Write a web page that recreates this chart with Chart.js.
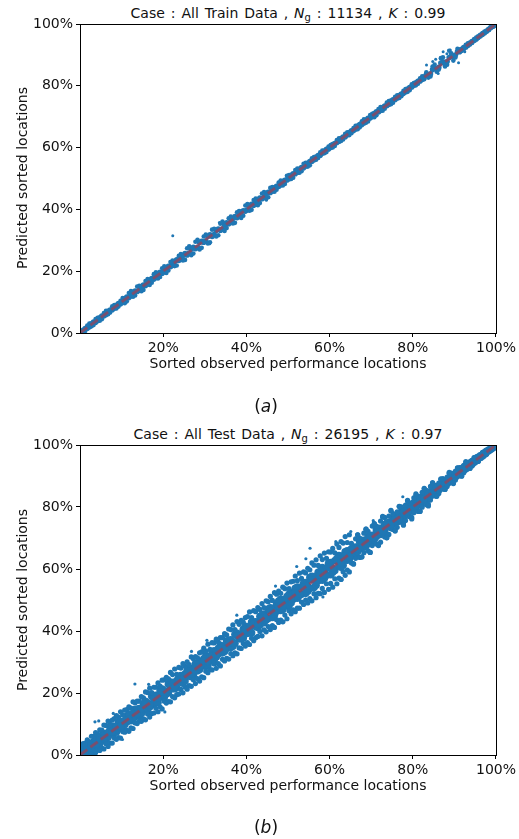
<!DOCTYPE html>
<html>
<head>
<meta charset="utf-8">
<script src="https://cdn.jsdelivr.net/npm/chart.js@4.4.1/dist/chart.umd.min.js"></script>
<style>
  body { margin: 0; background: #fff; font-family: "DejaVu Sans", sans-serif; color: #111; }
  #page { position: relative; width: 519px; height: 839px; overflow: hidden; }
  canvas { position: absolute; left: 0; }
  .txt { position: absolute; text-align: center; font-size: 14px; line-height: 16px; white-space: nowrap; }
  .wide { left: 60px; width: 456px; }
  .title { word-spacing: 1.5px; }
  .ylab { left: -133px; width: 310px; transform: rotate(-90deg); }
  .cap { left: 216px; width: 100px; font-size: 17px; line-height: 20px; }
  sub { font-size: 10px; vertical-align: -3px; line-height: 0; }
</style>
</head>
<body>
<div id="page">
  <div class="txt wide title" style="top:5px">Case : All Train Data , <i>N</i><sub>g</sub> : 11134 , <i>K</i> : 0.99</div>
  <canvas id="trainChart" width="519" height="420" style="top:0"></canvas>
  <div class="txt ylab" style="top:170px">Predicted sorted locations</div>
  <div class="txt wide" style="top:355px">Sorted observed performance locations</div>
  <div class="txt cap" style="top:396px">(<i>a</i>)</div>

  <div class="txt wide title" style="top:426px">Case : All Test Data , <i>N</i><sub>g</sub> : 26195 , <i>K</i> : 0.97</div>
  <canvas id="testChart" width="519" height="419" style="top:420px"></canvas>
  <div class="txt ylab" style="top:592px">Predicted sorted locations</div>
  <div class="txt wide" style="top:777px">Sorted observed performance locations</div>
  <div class="txt cap" style="top:817px">(<i>b</i>)</div>
</div>
<script>
// tick values (percent)
const xTicks = [20, 40, 60, 80, 100]
const yTicks = [0, 20, 40, 60, 80, 100]
const diagonal = [0, 100]

// observed locations (two interleaved sets)
const obsA = [
  0.25, 1.25, 2.25, 3.25, 4.25, 5.25, 6.25, 7.25, 8.25, 9.25,
  10.25, 11.25, 12.25, 13.25, 14.25, 15.25, 16.25, 17.25, 18.25, 19.25,
  20.25, 21.25, 22.25, 23.25, 24.25, 25.25, 26.25, 27.25, 28.25, 29.25,
  30.25, 31.25, 32.25, 33.25, 34.25, 35.25, 36.25, 37.25, 38.25, 39.25,
  40.25, 41.25, 42.25, 43.25, 44.25, 45.25, 46.25, 47.25, 48.25, 49.25,
  50.25, 51.25, 52.25, 53.25, 54.25, 55.25, 56.25, 57.25, 58.25, 59.25,
  60.25, 61.25, 62.25, 63.25, 64.25, 65.25, 66.25, 67.25, 68.25, 69.25,
  70.25, 71.25, 72.25, 73.25, 74.25, 75.25, 76.25, 77.25, 78.25, 79.25,
  80.25, 81.25, 82.25, 83.25, 84.25, 85.25, 86.25, 87.25, 88.25, 89.25,
  90.25, 91.25, 92.25, 93.25, 94.25, 95.25, 96.25, 97.25, 98.25, 99.25
]
const obsB = [
  0.75, 1.75, 2.75, 3.75, 4.75, 5.75, 6.75, 7.75, 8.75, 9.75,
  10.75, 11.75, 12.75, 13.75, 14.75, 15.75, 16.75, 17.75, 18.75, 19.75,
  20.75, 21.75, 22.75, 23.75, 24.75, 25.75, 26.75, 27.75, 28.75, 29.75,
  30.75, 31.75, 32.75, 33.75, 34.75, 35.75, 36.75, 37.75, 38.75, 39.75,
  40.75, 41.75, 42.75, 43.75, 44.75, 45.75, 46.75, 47.75, 48.75, 49.75,
  50.75, 51.75, 52.75, 53.75, 54.75, 55.75, 56.75, 57.75, 58.75, 59.75,
  60.75, 61.75, 62.75, 63.75, 64.75, 65.75, 66.75, 67.75, 68.75, 69.75,
  70.75, 71.75, 72.75, 73.75, 74.75, 75.75, 76.75, 77.75, 78.75, 79.75,
  80.75, 81.75, 82.75, 83.75, 84.75, 85.75, 86.75, 87.75, 88.75, 89.75,
  90.75, 91.75, 92.75, 93.75, 94.75, 95.75, 96.75, 97.75, 98.75, 99.5
]

// (a) train: predicted minus observed
const trainResA1 = [
  0.3, -0.6, 0.8, -0.7, 0.7, -0.8, 0.9, -0.6, 0.8, -0.7,
  1.1, -1.0, 1.3, -1.1, 1.0, -1.3, 1.2, -1.0, 1.4, -1.1, 1.3, -1.0, 1.2, -1.4, 1.3,
  -1.6, 1.8, -1.5, 1.9, -1.7, 1.6, -1.9, 1.5, -1.6, 1.8,
  -1.3, 1.4, -1.6, 1.2, -1.3, 1.5, -1.4, 1.3, -1.2, 1.4, -1.3,
  1.0, -0.9, 1.1, -1.0, 0.9, -1.0, 1.0, -0.9, 0.8, -1.0,
  0.7, -0.6, 0.8, -0.7, 0.6, -0.7, 0.8, -0.6, 0.7, -0.6,
  0.8, -0.7, 0.9, -0.8, 0.7, -0.8, 0.9, -0.7, 0.8, -0.7,
  0.7, -0.6, 0.7, -0.7, 0.6, -0.6, 0.8,
  1.1, -1.2, 1.6, -1.0, 2.0, -1.4, 1.3, -1.1,
  0.5, -0.4, 0.5, -0.4, 0.4, -0.3, 0.3, -0.2, 0.1
]
const trainResA2 = [
  -0.1, 0.2, -0.2, 0.3, -0.2, 0.2, -0.3, 0.2, -0.2, 0.3,
  -0.3, 0.4, -0.3, 0.3, -0.4, 0.3, -0.3, 0.4, -0.3, 0.4, -0.4, 0.3, -0.3, 0.4, -0.3,
  0.5, -0.4, 0.5, -0.5, 0.4, -0.5, 0.5, -0.4, 0.4, -0.5,
  0.4, -0.3, 0.4, -0.4, 0.3, -0.4, 0.4, -0.3, 0.4, -0.3, 0.3,
  -0.3, 0.2, -0.3, 0.2, -0.3, 0.3, -0.2, 0.3, -0.2, 0.2,
  -0.2, 0.2, -0.1, 0.2, -0.2, 0.1, -0.2, 0.2, -0.1, 0.2,
  -0.2, 0.2, -0.3, 0.2, -0.2, 0.3, -0.2, 0.2, -0.2, 0.2,
  -0.2, 0.1, -0.2, 0.2, -0.1, 0.2, -0.2,
  0.3, -0.4, 0.4, -0.3, 0.5, -0.4, 0.3, -0.3,
  -0.2, 0.1, -0.1, 0.1, -0.1, 0.1, -0.1, 0.0, 0.0
]
const trainResB1 = [
  -0.3, 0.7, -0.6, 0.8, -0.8, 0.7, -0.7, 0.9, -0.8, 0.7,
  -1.1, 1.2, -1.0, 1.3, -1.2, 1.1, -1.2, 1.3, -1.1, 1.2, -1.3, 1.2, -1.1, 1.2, -1.3,
  1.7, -1.6, 1.8, -1.7, 1.5, -1.8, 1.7, -1.5, 1.6, -1.7,
  1.4, -1.3, 1.3, -1.5, 1.5, -1.2, 1.3, -1.4, 1.4, -1.3, 1.2,
  -1.0, 0.9, -1.0, 1.1, -0.9, 1.0, -0.9, 1.0, -0.9, 0.8,
  -0.7, 0.7, -0.6, 0.6, -0.7, 0.7, -0.6, 0.7, -0.7, 0.6,
  -0.8, 0.8, -0.7, 0.8, -0.9, 0.7, -0.8, 0.8, -0.7, 0.7,
  -0.7, 0.6, -0.7, 0.7, -0.6, 0.7, -0.6,
  -1.1, 1.5, -1.2, 2.2, -1.5, 2.6, -1.6, 1.2,
  -0.5, 0.5, -0.4, 0.4, -0.3, 0.3, -0.2, 0.1, -0.1
]
const trainResB2 = [
  0.1, -0.2, 0.2, -0.3, 0.2, -0.2, 0.3, -0.2, 0.2, -0.3,
  0.3, -0.3, 0.4, -0.3, 0.3, -0.4, 0.3, -0.3, 0.4, -0.4, 0.3, -0.3, 0.4, -0.3, 0.3,
  -0.5, 0.4, -0.5, 0.5, -0.4, 0.5, -0.5, 0.4, -0.5, 0.4,
  -0.4, 0.3, -0.4, 0.4, -0.3, 0.4, -0.4, 0.3, -0.3, 0.4, -0.3,
  0.2, -0.3, 0.3, -0.2, 0.3, -0.2, 0.2, -0.3, 0.2, -0.2,
  0.2, -0.2, 0.1, -0.2, 0.2, -0.1, 0.2, -0.2, 0.1, -0.2,
  0.2, -0.3, 0.2, -0.2, 0.3, -0.2, 0.2, -0.2, 0.3, -0.2,
  0.1, -0.2, 0.2, -0.1, 0.2, -0.2, 0.1,
  -0.4, 0.5, -0.3, 0.6, -0.5, 0.4, -0.4, 0.3,
  0.1, -0.2, 0.1, -0.1, 0.1, -0.1, 0.0, 0.1, 0.0
]
const trainOutX = [22.3, 83.3, 87.3, 86.1, 91.0, 85.5, 88.2, 84.8, 89.0, 92.5, 33.5, 31.2, 44.8]
const trainOutY = [31.5, 86.7, 91.0, 84.0, 87.5, 88.6, 90.4, 87.9, 91.6, 91.0, 35.8, 28.9, 43.0]

// (b) test: predicted minus observed, outer part of the band
const testResA1 = [
  2.2, 2.6, 2.0, 2.8, 2.4,
  2.8, 3.3, 2.6, 3.5, 3.0, 2.7, 3.4, 2.9, 3.6, 3.1,
  3.2, 3.9, 2.9, 3.6, 3.0, 4.0, 3.3, 3.7, 2.8, 3.8,
  3.4, 2.9, 3.8, 3.1, 4.0, 3.3, 2.8, 3.9, 3.2, 3.6,
  3.5, 4.2, 3.2, 3.9, 3.6, 4.4, 3.1, 4.0, 3.7, 3.3,
  4.2, 3.6, 4.6, 3.9, 4.4, 3.4, 4.8, 4.0, 3.7, 4.5,
  4.5, 5.0, 3.9, 4.8, 4.2, 5.2, 4.0, 4.7, 5.1, 4.3,
  3.0, 3.5, 2.7, 3.3, 2.9, 3.6, 2.6, 3.2, 3.4, 2.8,
  2.6, 2.2, 2.8, 2.4, 2.0, 2.7, 2.3, 2.5, 2.1, 2.4,
  1.8, 1.5, 1.9, 1.4, 1.7, 1.3, 1.5, 1.2,
  1.0, 0.8, 0.9, 0.6, 0.5,
  0.3, 0.2
]
const testResA2 = [
  -0.2, -1.1, -1.9, -2.6, -2.5,
  -3.0, -2.6, -3.4, -2.8, -3.6, -2.7, -3.2, -3.5, -2.9, -3.3,
  -3.6, -3.0, -3.9, -3.2, -3.7, -2.9, -4.0, -3.4, -3.8, -3.1,
  -3.3, -3.9, -3.0, -3.6, -4.0, -3.2, -3.7, -2.9, -3.8, -3.4,
  -4.1, -3.5, -4.3, -3.7, -3.3, -4.0, -3.6, -4.4, -3.4, -3.9,
  -3.8, -4.5, -3.6, -4.7, -4.1, -3.7, -4.4, -4.9, -3.9, -4.3,
  -4.8, -4.2, -5.1, -4.5, -4.0, -4.9, -4.4, -5.2, -4.1, -4.6,
  -3.3, -2.8, -3.5, -3.0, -3.4, -2.7, -3.2, -3.6, -2.9, -3.1,
  -2.5, -2.8, -2.2, -2.6, -2.4, -2.1, -2.7, -2.3, -2.5, -2.0,
  -1.7, -1.9, -1.4, -1.6, -1.3, -1.5, -1.1, -1.2,
  -0.9, -1.0, -0.7, -0.6, -0.4,
  -0.3, -0.2
]
const testResB1 = [
  2.9, -1.6, 3.3, -3.0, 3.4,
  -3.8, 4.2, -3.9, 4.0, -4.3, 3.7, -4.1, 4.4, -3.6, 4.1,
  -4.4, 4.8, -4.2, 4.5, -4.9, 4.3, -4.6, 5.0, -4.1, 4.7,
  -4.5, 4.9, -4.7, 4.2, -4.8, 5.0, -4.3, 4.6, -5.0, 4.4,
  -4.8, 5.2, -5.1, 4.7, -4.6, 5.4, -4.9, 4.8, -5.3, 5.0,
  -5.3, 5.6, -5.0, 5.4, -5.8, 5.1, -5.5, 5.9, -5.2, 5.5,
  -6.0, 6.2, -5.7, 6.4, -6.3, 5.9, -6.5, 6.1, -5.8, 6.3,
  -4.0, 4.3, -3.8, 4.1, -4.4, 3.9, -4.2, 4.0, -3.7, 4.2,
  -3.3, 3.5, -3.1, 3.4, -3.6, 3.0, -3.2, 3.3, -2.9, 3.1,
  -2.2, 2.3, -2.0, 2.1, -2.2, 1.8, -1.7, 1.9,
  -1.2, 1.1, -1.0, 0.8, -0.6,
  0.4, -0.3
]
const testResB4 = [
  -0.6, 3.1, -2.5, 3.5, -3.3,
  3.9, -4.0, 3.5, -3.7, 4.2, -3.4, 3.8, -4.2, 3.6, -3.9,
  4.6, -4.5, 4.1, -4.8, 4.4, -4.0, 4.9, -4.3, 4.5, -4.7,
  4.3, -4.6, 4.0, -4.9, 4.7, -4.2, 4.5, -4.8, 4.1, -4.4,
  4.9, -4.7, 5.3, -4.4, 4.6, -5.1, 4.8, -4.5, 5.1, -5.0,
  5.4, -5.6, 5.1, -5.8, 5.7, -5.2, 6.0, -5.4, 5.3, -5.7,
  6.2, -6.0, 6.5, -6.3, 5.8, -6.6, 6.3, -6.1, 6.7, -5.7,
  -4.2, 4.3, -3.9, 4.1, -4.4, 3.8, -4.0, 4.2, -3.6, 4.0,
  -3.5, 3.4, -3.6, 3.2, -3.1, 3.5, -3.0, 3.1, -3.4, 2.9,
  -2.3, 2.2, -2.1, 2.4, -2.0, 1.9, -1.8, 1.6,
  -1.3, 1.2, -1.0, 0.8, -0.7,
  0.4, -0.3
]
// (b) test: inner, densest part of the band
const testResA3 = [
  0.8, 1.2, 0.5, 1.0, 0.7,
  1.1, 0.6, 1.4, 0.9, 1.3, 0.4, 1.2, 0.8, 1.5, 0.7,
  1.3, 0.6, 1.7, 1.0, 1.5, 0.5, 1.6, 1.1, 0.8, 1.4,
  0.9, 1.6, 0.7, 1.3, 1.0, 1.7, 0.6, 1.4, 1.1, 0.8,
  1.5, 0.9, 1.7, 0.6, 1.3, 1.0, 1.6, 0.7, 1.4, 1.2,
  1.8, 1.0, 1.5, 2.0, 0.8, 1.6, 1.2, 1.9, 0.9, 1.4,
  2.0, 1.2, 1.7, 2.2, 0.9, 1.8, 1.4, 2.1, 1.0, 1.6,
  1.3, 0.8, 1.5, 1.0, 1.2, 0.6, 1.4, 0.9, 1.1, 0.7,
  1.0, 0.7, 1.2, 0.5, 0.9, 1.1, 0.6, 1.0, 0.8, 0.5,
  0.7, 0.5, 0.8, 0.4, 0.6, 0.5, 0.3, 0.5,
  0.4, 0.3, 0.2, 0.3, 0.2,
  0.1, 0.1
]
const testResA4 = [
  -0.1, -0.5, -0.9, -0.6, -1.1,
  -0.7, -1.3, -0.5, -1.1, -0.8, -1.4, -0.6, -1.2, -0.9, -1.5,
  -0.8, -1.6, -1.0, -1.4, -0.6, -1.7, -1.2, -0.9, -1.5, -0.7,
  -1.4, -0.8, -1.6, -1.1, -0.6, -1.5, -1.0, -1.7, -0.7, -1.3,
  -0.9, -1.6, -1.2, -0.7, -1.5, -1.0, -1.8, -0.8, -1.3, -1.6,
  -1.2, -1.9, -0.9, -1.6, -1.3, -2.0, -1.0, -1.7, -1.4, -2.1,
  -1.5, -2.2, -1.0, -1.9, -1.3, -2.1, -1.7, -1.1, -2.0, -1.4,
  -0.9, -1.4, -0.7, -1.2, -1.0, -1.5, -0.8, -1.1, -1.3, -0.6,
  -0.8, -1.1, -0.6, -1.0, -0.7, -1.2, -0.5, -0.9, -1.0, -0.6,
  -0.6, -0.8, -0.4, -0.7, -0.5, -0.6, -0.3, -0.4,
  -0.3, -0.4, -0.2, -0.3, -0.2,
  -0.1, -0.1
]
const testResB2 = [
  -0.4, 0.9, -1.2, 0.8, -1.0,
  1.2, -1.0, 1.4, -1.3, 1.1, -0.9, 1.5, -1.2, 1.0, -1.4,
  1.6, -1.3, 1.2, -1.7, 1.5, -1.1, 1.8, -1.4, 1.3, -1.6,
  1.4, -1.5, 1.7, -1.2, 1.3, -1.8, 1.5, -1.1, 1.6, -1.4,
  1.2, -1.7, 1.5, -1.3, 1.8, -1.4, 1.1, -1.6, 1.4, -1.2,
  1.7, -1.5, 1.9, -1.8, 1.4, -1.6, 2.0, -1.3, 1.6, -1.9,
  1.9, -2.0, 1.5, -1.7, 2.1, -1.8, 1.6, -2.2, 1.8, -1.5,
  1.2, -1.1, 1.4, -1.3, 1.0, -1.2, 1.3, -0.9, 1.1, -1.4,
  1.0, -0.9, 1.1, -1.0, 0.8, -1.1, 0.9, -0.8, 1.0, -0.7,
  0.7, -0.6, 0.6, -0.7, 0.5, -0.5, 0.6, -0.4,
  0.4, -0.3, 0.3, -0.3, 0.2,
  -0.1, 0.1
]
const testResB3 = [
  0.3, -0.2, 0.4, -0.3, 0.2,
  -0.4, 0.5, -0.2, 0.3, -0.5, 0.4, -0.3, 0.6, -0.4, 0.2,
  0.5, -0.6, 0.3, -0.4, 0.7, -0.3, 0.4, -0.7, 0.6, -0.2,
  0.4, -0.5, 0.7, -0.3, 0.5, -0.6, 0.2, -0.4, 0.6, -0.7,
  0.3, -0.5, 0.6, -0.4, 0.7, -0.2, 0.5, -0.6, 0.4, -0.3,
  0.6, -0.7, 0.4, -0.5, 0.8, -0.4, 0.6, -0.8, 0.5, -0.3,
  0.7, -0.9, 0.5, -0.6, 0.9, -0.5, 0.8, -0.7, 0.4, -0.8,
  0.5, -0.4, 0.6, -0.5, 0.3, -0.6, 0.4, -0.3, 0.5, -0.4,
  0.4, -0.3, 0.5, -0.4, 0.2, -0.5, 0.3, -0.2, 0.4, -0.3,
  0.3, -0.2, 0.3, -0.3, 0.2, -0.2, 0.1, -0.2,
  0.1, -0.1, 0.2, -0.1, 0.1,
  0.0, 0.0
]
const testOutX = [3.6, 4.5, 13.2, 20.4, 26.8, 37.7, 49.0, 42.5, 55.3, 54.3, 65.1, 52.1, 58.4, 77.6, 16.5, 10.2, 30.5, 47.0, 61.5, 63.0, 70.5, 8.0]
const testOutY = [10.7, 11.0, 22.9, 13.9, 33.4, 45.1, 43.0, 38.2, 66.7, 63.3, 72.1, 60.8, 51.0, 83.3, 22.8, 5.0, 37.0, 54.5, 68.8, 56.5, 75.6, 13.4]

const BLUE = '#1f77b4'
const FONT = { family: 'DejaVu Sans', size: 14 }

function withRes(obs, res) {
  return obs.map((x, i) => ({ x: x, y: x + res[i] }))
}

function zip(xs, ys) {
  return xs.map((x, i) => ({ x: x, y: ys[i] }))
}

const frame = {
  id: 'frame',
  afterDraw(chart) {
    const a = chart.chartArea
    const ctx = chart.ctx
    ctx.save()
    ctx.strokeStyle = '#000'
    ctx.lineWidth = 1
    ctx.strokeRect(Math.round(a.left) + 0.5, Math.round(a.top) + 0.5, Math.round(a.right - a.left), Math.round(a.bottom - a.top))
    ctx.restore()
  }
}

function makeChart(id, groups, padTop, padBottom) {
  const axis = (ticks) => ({
    type: 'linear',
    min: 0,
    max: 100,
    afterBuildTicks: (s) => { s.ticks = ticks.map(v => ({ value: v })) },
    grid: { drawOnChartArea: false, drawTicks: true, tickLength: 4, color: '#000' },
    border: { display: true, color: '#000', width: 1 },
    ticks: { color: '#111', font: FONT, padding: 3, callback: v => v + '%', maxRotation: 0 }
  })
  const x = axis(xTicks)
  x.afterFit = (s) => { s.height = 30 }
  const y = axis(yTicks)
  y.afterFit = (s) => { s.width = 80 }

  const datasets = [{
    type: 'line',
    data: zip(diagonal, diagonal),
    borderColor: 'rgba(214, 39, 40, 0.5)',
    borderWidth: 2.8,
    borderDash: [9, 4],
    pointRadius: 0,
    fill: false
  }]
  groups.forEach(g => datasets.push({
    data: g.points,
    backgroundColor: BLUE,
    borderWidth: 0,
    pointRadius: g.radius
  }))

  return new Chart(document.getElementById(id), {
    type: 'scatter',
    data: { datasets: datasets },
    options: {
      responsive: false,
      animation: false,
      layout: { padding: { left: 0, right: 23, top: padTop, bottom: padBottom } },
      plugins: { legend: { display: false }, tooltip: { enabled: false } },
      scales: { x: x, y: y }
    },
    plugins: [frame]
  })
}

makeChart('trainChart', [
  { points: [].concat(withRes(obsA, trainResA1), withRes(obsB, trainResB1)), radius: 2.3 },
  { points: [].concat(withRes(obsA, trainResA2), withRes(obsB, trainResB2)), radius: 2.8 },
  { points: zip(trainOutX, trainOutY), radius: 1.5 }
], 24, 57)

makeChart('testChart', [
  { points: [].concat(withRes(obsA, testResA1), withRes(obsA, testResA2),
                      withRes(obsB, testResB1), withRes(obsB, testResB4)), radius: 2.6 },
  { points: [].concat(withRes(obsA, testResA3), withRes(obsA, testResA4),
                      withRes(obsB, testResB2), withRes(obsB, testResB3)), radius: 3.8 },
  { points: zip(testOutX, testOutY), radius: 1.6 }
], 25, 54)
</script>
</body>
</html>
